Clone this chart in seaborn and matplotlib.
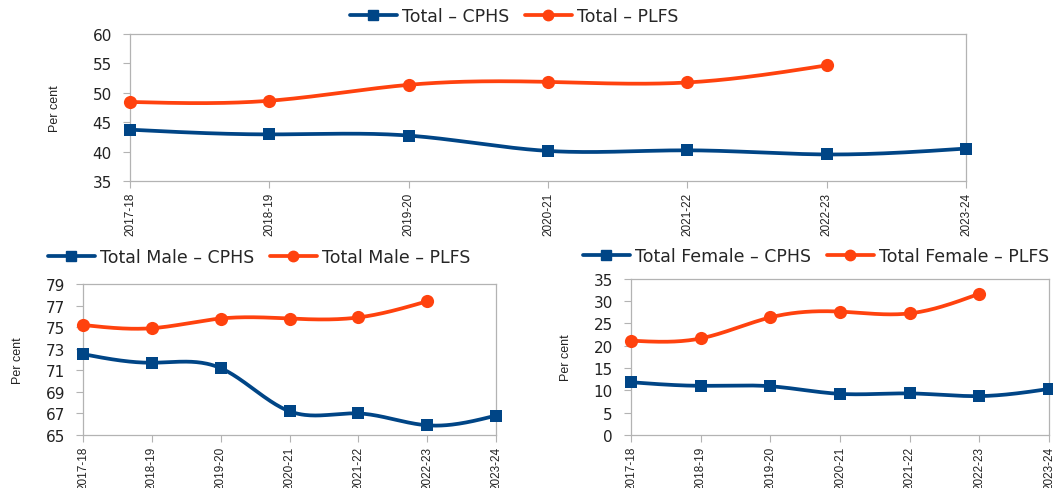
import numpy as np
import pandas as pd
import matplotlib
matplotlib.use("Agg")
import matplotlib.pyplot as plt
from matplotlib.lines import Line2D
import seaborn as sns

years = ["2017-18", "2018-19", "2019-20", "2020-21", "2021-22", "2022-23", "2023-24"]

total_cphs = [43.7, 42.9, 42.7, 40.1, 40.2, 39.5, 40.5]
total_plfs = [48.4, 48.6, 51.3, 51.8, 51.7, 54.6]

male_cphs = [72.5, 71.7, 71.2, 67.2, 67.0, 65.9, 66.8]
male_plfs = [75.2, 74.9, 75.8, 75.8, 75.9, 77.4]

female_cphs = [11.8, 11.0, 10.9, 9.2, 9.3, 8.7, 10.3]
female_plfs = [21.1, 21.6, 26.3, 27.6, 27.2, 31.6]

BLUE = "#004586"
ORANGE = "#ff420e"
AXIS_GREY = "#b3b3b3"
TEXT = "#222222"
WIDE = ["DejaVu Sans"]
NARROW = ["Liberation Sans", "DejaVu Sans"]

sns.set_theme(style="white")
plt.rcParams["font.family"] = NARROW


def natural_spline(y, steps=40):
    """Natural cubic spline through equally spaced points, for a smooth line."""
    y = np.asarray(y, dtype=float)
    n = len(y)
    x = np.arange(n, dtype=float)
    A = np.zeros((n, n))
    b = np.zeros(n)
    A[0, 0] = A[-1, -1] = 1.0
    for i in range(1, n - 1):
        A[i, i - 1], A[i, i], A[i, i + 1] = 1.0, 4.0, 1.0
        b[i] = 6.0 * (y[i + 1] - 2 * y[i] + y[i - 1])
    m = np.linalg.solve(A, b)
    xs, ys = [], []
    for i in range(n - 1):
        t = np.linspace(0, 1, steps, endpoint=(i == n - 2))
        a = 1 - t
        yy = a * y[i] + t * y[i + 1] + ((a ** 3 - a) * m[i] + (t ** 3 - t) * m[i + 1]) / 6.0
        xs.append(x[i] + t)
        ys.append(yy)
    return np.concatenate(xs), np.concatenate(ys)


def draw_series(ax, values, color, marker, msize):
    xs, ys = natural_spline(values)
    curve = pd.DataFrame({"x": xs, "y": ys})
    sns.lineplot(data=curve, x="x", y="y", ax=ax, color=color, linewidth=2.7,
                 sort=False, estimator=None, zorder=3)
    pts = pd.DataFrame({"x": np.arange(len(values)), "y": values})
    sns.scatterplot(data=pts, x="x", y="y", ax=ax, color=color, marker=marker,
                    s=msize, edgecolor=color, linewidth=0, zorder=4, clip_on=False)


def style_axes(ax, ylim, yticks, label_x):
    ax.set_xlim(0, len(years) - 1)
    ax.set_ylim(*ylim)
    ax.set_yticks(yticks)
    ax.set_yticklabels([str(v) for v in yticks], family=WIDE, fontsize=11, color=TEXT)
    ax.set_xticks(range(len(years)))
    ax.set_xticklabels(years, rotation=90, fontsize=8.5, color=TEXT)
    ax.tick_params(axis="both", which="major", length=5, width=0.8,
                   color=AXIS_GREY, direction="out")
    ax.tick_params(axis="y", left=True, pad=8)
    ax.tick_params(axis="x", bottom=True, pad=3)
    for side in ax.spines.values():
        side.set_color(AXIS_GREY)
        side.set_linewidth(0.9)
    ax.set_xlabel("")
    ax.set_ylabel("Per cent", fontsize=9, color=TEXT)
    ax.yaxis.set_label_coords(label_x, 0.5)


def add_legend(fig, labels, cx, cy):
    handles = [
        Line2D([], [], color=BLUE, linewidth=2.7, marker="s", markersize=7.5),
        Line2D([], [], color=ORANGE, linewidth=2.7, marker="o", markersize=7.5),
    ]
    fig.legend(handles, labels, loc="center", bbox_to_anchor=(cx, cy), ncol=2,
               frameon=False, prop={"family": WIDE, "size": 12.5},
               handlelength=2.7, handletextpad=0.3, columnspacing=0.9,
               borderaxespad=0)


W, H = 1053, 489
fig = plt.figure(figsize=(W / 100, H / 100), dpi=100)


def place(left, top, right, bottom):
    return fig.add_axes([left / W, 1 - bottom / H, (right - left) / W, (bottom - top) / H])


ax_top = place(130, 34.5, 966, 182)
ax_male = place(83, 285, 496, 436)
ax_female = place(631, 279.5, 1049, 436)

draw_series(ax_top, total_cphs, BLUE, "s", 85)
draw_series(ax_top, total_plfs, ORANGE, "o", 90)
style_axes(ax_top, (35, 60), range(35, 61, 5), -0.082)

draw_series(ax_male, male_cphs, BLUE, "s", 85)
draw_series(ax_male, male_plfs, ORANGE, "o", 90)
style_axes(ax_male, (65, 79), range(65, 80, 2), -0.143)

draw_series(ax_female, female_cphs, BLUE, "s", 85)
draw_series(ax_female, female_plfs, ORANGE, "o", 90)
style_axes(ax_female, (0, 35), range(0, 36, 5), -0.141)

add_legend(fig, ["Total – CPHS", "Total – PLFS"], 514 / W, 1 - 17 / H)
add_legend(fig, ["Total Male – CPHS", "Total Male – PLFS"], 259 / W, 1 - 258 / H)
add_legend(fig, ["Total Female – CPHS", "Total Female – PLFS"], 816 / W, 1 - 257 / H)

fig.savefig("out.png", dpi=100)
